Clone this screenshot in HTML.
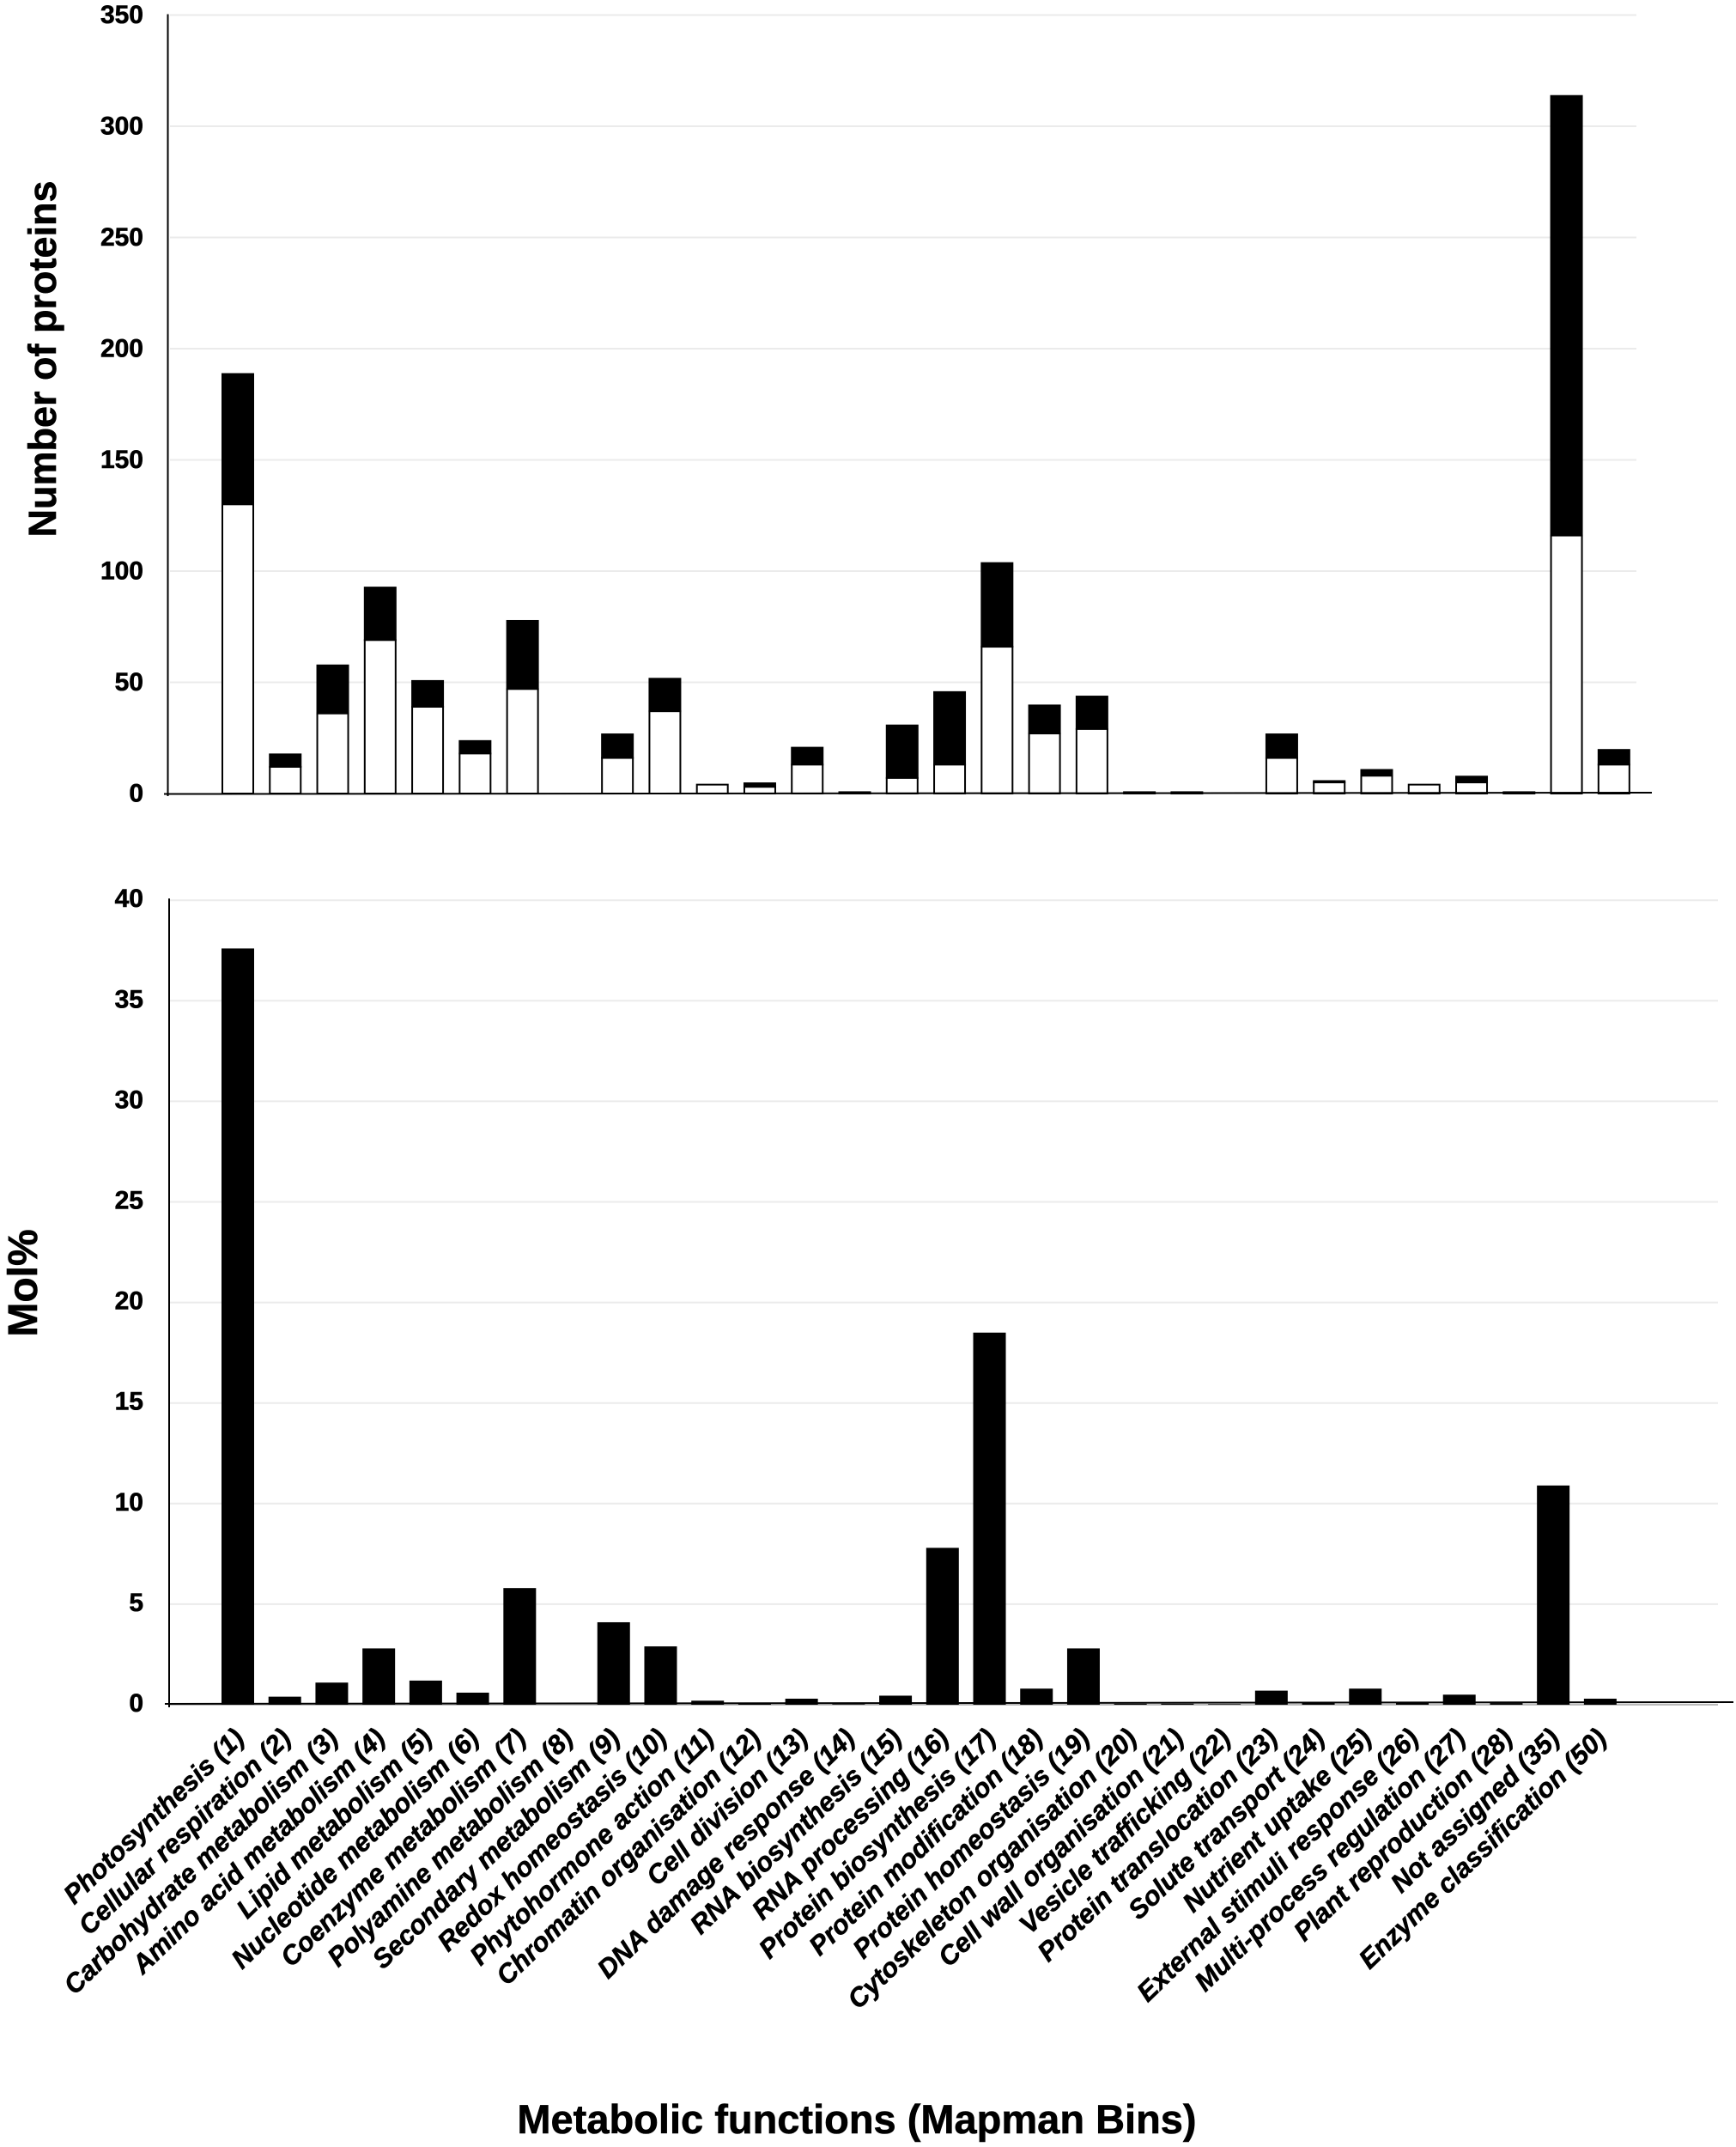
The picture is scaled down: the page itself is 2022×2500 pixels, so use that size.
<!DOCTYPE html>
<html lang="en">
<head>
<meta charset="utf-8">
<title>Metabolic functions chart</title>
<style>
html,body{margin:0;padding:0;background:#fff;}
svg{display:block;font-family:"Liberation Sans",sans-serif;font-weight:bold;fill:#000;}
svg text{stroke:#000;stroke-width:0.6px;}
</style>
</head>
<body>
<svg id="chart" xmlns="http://www.w3.org/2000/svg" width="2022" height="2500" viewBox="0 0 2022 2500">
<rect x="0" y="0" width="2022" height="2500" fill="#fff"/>
<text transform="translate(65 418) rotate(-90)" text-anchor="middle" font-size="45">Number of proteins</text>
<text transform="translate(43 1494) rotate(-90)" text-anchor="middle" font-size="48">Mol%</text>
<text x="998" y="2484" text-anchor="middle" font-size="47">Metabolic functions (Mapman Bins)</text>
<g id="top-chart"></g>
<g id="bottom-chart"></g>
<g id="labels"></g>
</svg>
<script>
const categories = ["Photosynthesis (1)","Cellular respiration (2)","Carbohydrate metabolism (3)","Amino acid metabolism (4)","Lipid metabolism (5)","Nucleotide metabolism (6)","Coenzyme metabolism (7)","Polyamine metabolism (8)","Secondary metabolism (9)","Redox homeostasis (10)","Phytohormone action (11)","Chromatin organisation (12)","Cell division (13)","DNA damage response (14)","RNA biosynthesis (15)","RNA processing (16)","Protein biosynthesis (17)","Protein modification (18)","Protein homeostasis (19)","Cytoskeleton organisation (20)","Cell wall organisation (21)","Vesicle trafficking (22)","Protein translocation (23)","Solute transport (24)","Nutrient uptake (25)","External stimuli response (26)","Multi-process regulation (27)","Plant reproduction (28)","Not assigned (35)","Enzyme classification (50)"];
const whiteCounts = [130,12,36,69,39,18,47,0,16,37,4,3,13,0,7,13,66,27,29,0,0,0,16,5,8,4,5,0,116,13];
const blackCounts = [59,6,22,24,12,6,31,0,11,15,0,2,8,1,24,33,38,13,15,1,1,0,11,1,3,0,3,1,198,7];
const molPercent = [37.6,0.4,1.1,2.8,1.2,0.6,5.8,0,4.1,2.9,0.2,0.05,0.3,0.03,0.45,7.8,18.5,0.8,2.8,0.05,0.05,0.03,0.7,0.08,0.8,0.1,0.5,0.08,10.9,0.3];
const topTicks = [0,50,100,150,200,250,300,350];
const bottomTicks = [0,5,10,15,20,25,30,35,40];

const NS = "http://www.w3.org/2000/svg";
const barW = 38;
function xTop(i){ return 258 + 55.27 * i; }
function yTop(v){ return 924 - 2.59 * v; }
function xBottom(i){ return 258 + 54.72 * i; }
function yBottom(v){ return 1985 - 23.42 * v; }
function xLabel(i){ return 286 + 54.72 * i; }

function make(parent, tag, attrs){
  const el = document.createElementNS(NS, tag);
  for (const k in attrs) el.setAttribute(k, attrs[k]);
  parent.appendChild(el);
  return el;
}

const topG = document.getElementById("top-chart");
const botG = document.getElementById("bottom-chart");
const labG = document.getElementById("labels");

/* top chart grid + ticks */
topTicks.forEach(function(t){
  if (t > 0) {
    const g = make(topG, "line", {x1:198, x2:1906, y1:yTop(t), y2:yTop(t), stroke:"#ebebeb", "stroke-width":2});
    
    
  }
  const l = make(topG, "text", {x:167, y:yTop(t)+9.5, "text-anchor":"end", "font-size":30});
  l.textContent = t;
  
  
});

/* top chart bars */
categories.forEach(function(c, i){
  const w = whiteCounts[i], b = blackCounts[i];
  if (b > 0) {
    const r = make(topG, "rect", {x:xTop(i), y:yTop(w+b), width:barW, height:yTop(w)-yTop(w+b)+1, fill:"#000"});
    
    
  }
  if (w > 0) {
    const r2 = make(topG, "rect", {x:xTop(i)+1, y:yTop(w), width:barW-2, height:yTop(0)-yTop(w), fill:"#fff", stroke:"#000", "stroke-width":2});
    
    
  }
});

const topY = make(topG, "line", {x1:195.5, x2:195.5, y1:yTop(350)-1, y2:yTop(0)+3, stroke:"#000", "stroke-width":2});


const topX = make(topG, "line", {x1:191, x2:1924, y1:yTop(0)+0.5, y2:yTop(0)-1, stroke:"#000", "stroke-width":2});



/* bottom chart grid + ticks */
bottomTicks.forEach(function(t){
  const g = make(botG, "line", {x1:198, x2:2001, y1:yBottom(t), y2:yBottom(t), stroke:t===0?"#bbb":"#ebebeb", "stroke-width":2});
  
  
  const l = make(botG, "text", {x:167, y:yBottom(t)+8, "text-anchor":"end", "font-size":30});
  l.textContent = t;
  
  
});

/* bottom chart bars */
molPercent.forEach(function(v, i){
  const r = make(botG, "rect", {x:xBottom(i), y:yBottom(v), width:barW, height:yBottom(0)-yBottom(v), fill:"#000"});
  
  
});

const botY = make(botG, "line", {x1:197, x2:197, y1:yBottom(40)-2, y2:yBottom(0)+3, stroke:"#000", "stroke-width":2});


const botX = make(botG, "line", {x1:192, x2:2019, y1:yBottom(0)-1, y2:yBottom(0)-3, stroke:"#000", "stroke-width":2});



/* rotated category labels */
categories.forEach(function(c, i){
  const x = xLabel(i), y = 2026;
  const t = make(labG, "text", {x:x, y:y, "text-anchor":"end", "font-size":31, "font-style":"italic", transform:"rotate(-44 "+x+" "+y+")"});
  t.textContent = c;
  
  
});
</script>
</body>
</html>
